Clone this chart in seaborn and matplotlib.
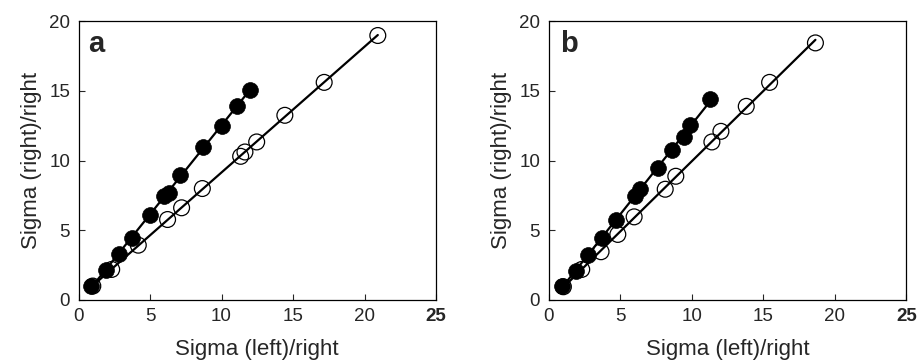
import numpy as np
import pandas as pd
import matplotlib
matplotlib.use("Agg")
import matplotlib.pyplot as plt
import seaborn as sns

# Panel a
a_filled_x = [0.86, 1.9, 2.86, 3.72, 5.0, 6.0, 6.3, 7.13, 8.73, 10.0, 11.06, 11.99]
a_filled_y = [1.0, 2.15, 3.3, 4.48, 6.08, 7.42, 7.7, 8.94, 10.97, 12.5, 13.88, 15.07]
a_open_x = [1.0, 2.32, 4.18, 6.23, 7.21, 8.66, 11.34, 11.64, 12.46, 14.43, 17.18, 20.93]
a_open_y = [1.0, 2.19, 3.93, 5.77, 6.61, 7.99, 10.3, 10.61, 11.33, 13.24, 15.6, 18.96]

# Panel b
b_filled_x = [0.92, 1.9, 2.74, 3.72, 4.7, 6.05, 6.4, 7.63, 8.61, 9.43, 9.85, 11.29]
b_filled_y = [1.0, 2.1, 3.22, 4.41, 5.72, 7.44, 7.94, 9.49, 10.73, 11.69, 12.52, 14.38]
b_open_x = [1.04, 2.32, 3.67, 4.84, 5.98, 8.15, 8.89, 11.41, 12.04, 13.81, 15.44, 18.64]
b_open_y = [0.95, 2.19, 3.46, 4.70, 5.96, 7.94, 8.87, 11.33, 12.09, 13.88, 15.6, 18.43]

x_ticks = [0, 5, 10, 15, 20, 25]
y_ticks = [0, 5, 10, 15, 20]
x_label = "Sigma (left)/right"
y_label = "Sigma (right)/right"
panel_letters = ["a", "b"]

sns.set_style("ticks")
plt.rcParams["font.family"] = ["Liberation Sans", "DejaVu Sans"]

fig = plt.figure(figsize=(9.17, 3.62), dpi=100)
ax_a = fig.add_axes([78.5 / 917, 62 / 362, 357.5 / 917, 279 / 362])
ax_b = fig.add_axes([548.5 / 917, 62 / 362, 358 / 917, 279 / 362])


def fit_line(x, y):
    x = np.asarray(x)
    y = np.asarray(y)
    k, b = np.polyfit(x, y, 1)
    xs = np.array([x.min(), x.max()])
    return pd.DataFrame({"x": xs, "y": k * xs + b})


def draw(ax, fx, fy, ox, oy, letter, lx):
    lf = fit_line(fx, fy)
    lo = fit_line(ox, oy)
    sns.lineplot(data=lo, x="x", y="y", ax=ax, color="black", lw=1.6, zorder=2)
    sns.lineplot(data=lf, x="x", y="y", ax=ax, color="black", lw=1.6, zorder=2)
    sns.scatterplot(x=ox, y=oy, ax=ax, s=130, facecolors="none",
                    edgecolor="black", linewidth=0.9, zorder=3)
    sns.scatterplot(x=fx, y=fy, ax=ax, s=130, color="black",
                    edgecolor="black", linewidth=0.5, zorder=4)
    ax.set_xlim(0, 25)
    ax.set_ylim(0, 20)
    ax.set_xticks(x_ticks)
    ax.set_yticks(y_ticks)
    ax.set_xlabel(x_label, fontsize=16, labelpad=10)
    ax.set_ylabel(y_label, fontsize=16, labelpad=5)
    ax.tick_params(direction="in", length=4, width=0.8, labelsize=13.5,
                   top=False, right=False, pad=6)
    for lab in ax.get_xticklabels():
        if lab.get_text() == "25":
            lab.set_fontweight("bold")
    for sp in ax.spines.values():
        sp.set_visible(True)
        sp.set_linewidth(0.9)
        sp.set_color("black")
    ax.text(lx, 0.889, letter, transform=ax.transAxes, fontsize=21,
            fontweight="bold", va="baseline", ha="left")


draw(ax_a, a_filled_x, a_filled_y, a_open_x, a_open_y, panel_letters[0], 0.026)
draw(ax_b, b_filled_x, b_filled_y, b_open_x, b_open_y, panel_letters[1], 0.033)

fig.savefig("out.png", dpi=100)
